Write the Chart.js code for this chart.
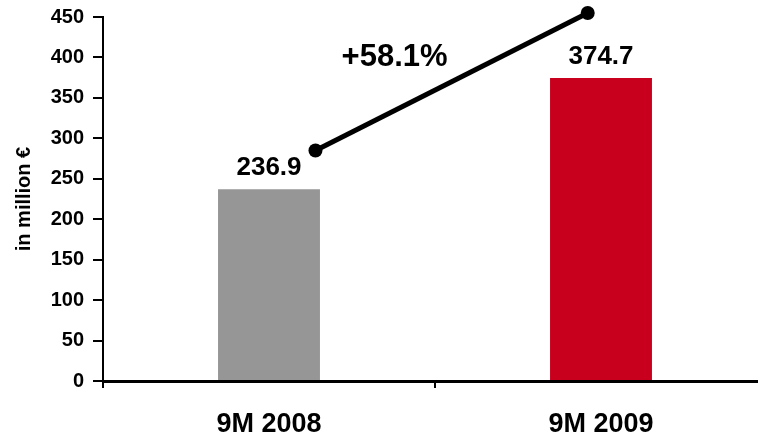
<!DOCTYPE html>
<html>
<head>
<meta charset="utf-8">
<script src="https://cdn.jsdelivr.net/npm/chart.js@4/dist/chart.umd.min.js"></script>
<style>
  html, body { margin: 0; padding: 0; background: #fff; overflow: hidden; }
  #sales { display: block; width: 774px; height: 438px; }
</style>
</head>
<body>
<canvas id="sales" width="774" height="438"></canvas>
<script>
// sales by period
const periods = ['9M 2008', '9M 2009']
const sales = [236.9, 374.7]
const barColors = ['#969696', '#c8001e']

// growth arrow drawn above the bars
const growthX = [0.14, 0.96]
const growthY = [285, 455]
const growthText = '+58.1%'

const yTicks = [0, 50, 100, 150, 200, 250, 300, 350, 400, 450]

const font = 'Arial, "Liberation Sans", Helvetica, sans-serif'

const labelsPlugin = {
  id: 'valueLabels',
  afterDatasetsDraw (chart) {
    const ctx = chart.ctx
    ctx.save()
    ctx.fillStyle = '#000'
    ctx.textAlign = 'center'
    ctx.textBaseline = 'alphabetic'
    ctx.font = 'bold 26px ' + font
    chart.getDatasetMeta(1).data.forEach((bar, i) => {
      ctx.fillText(sales[i].toFixed(1), bar.x, bar.y - 14)
    })
    // growth figure next to the arrow
    const pts = chart.getDatasetMeta(0).data
    const mx = (pts[0].x + pts[1].x) / 2
    const my = (pts[0].y + pts[1].y) / 2
    ctx.font = 'bold 31px ' + font
    ctx.textBaseline = 'middle'
    ctx.fillText(growthText, mx - 57, my - 24)
    ctx.restore()
  }
}

new Chart(document.getElementById('sales'), {
  data: {
    labels: periods,
    datasets: [
      {
        type: 'line',
        xAxisID: 'xLine',
        data: growthX.map((x, i) => ({ x, y: growthY[i] })),
        borderColor: '#000',
        backgroundColor: '#000',
        borderWidth: 5,
        pointRadius: 7,
        pointBorderWidth: 0,
        clip: false,
        order: 0
      },
      {
        type: 'bar',
        xAxisID: 'x',
        data: sales,
        backgroundColor: barColors,
        grouped: false,
        barPercentage: 0.307,
        categoryPercentage: 1,
        order: 1
      }
    ]
  },
  options: {
    responsive: false,
    animation: false,
    events: [],
    layout: { padding: { top: 17, right: 3, left: 0, bottom: 0 } },
    plugins: { legend: { display: false }, tooltip: { enabled: false } },
    scales: {
      x: {
        type: 'category',
        offset: true,
        grid: { drawOnChartArea: false, color: '#000', lineWidth: 2, tickLength: 7, offset: true },
        border: { color: '#000', width: 3 },
        ticks: { color: '#000', padding: 20, font: { family: font, size: 27, weight: 'bold' } },
        afterFit (scale) { scale.height = 57 }
      },
      xLine: {
        type: 'linear',
        display: false,
        min: -0.5,
        max: 1.5
      },
      y: {
        min: 0,
        max: 450,
        afterBuildTicks (scale) { scale.ticks = yTicks.map(v => ({ value: v })) },
        grid: { drawOnChartArea: false, color: '#000', lineWidth: 2, tickLength: 10 },
        border: { color: '#000', width: 2 },
        ticks: { color: '#000', padding: 9, font: { family: font, size: 20, weight: 'bold' } },
        title: {
          display: true,
          text: 'in million €',
          color: '#000',
          padding: { top: 12, bottom: 0 },
          font: { family: font, size: 20, weight: 'bold' }
        },
        afterFit (scale) {
          scale.width = 103
          scale.paddingTop = 0
          scale.paddingBottom = 0
        }
      }
    }
  },
  plugins: [labelsPlugin]
})
</script>
</body>
</html>
